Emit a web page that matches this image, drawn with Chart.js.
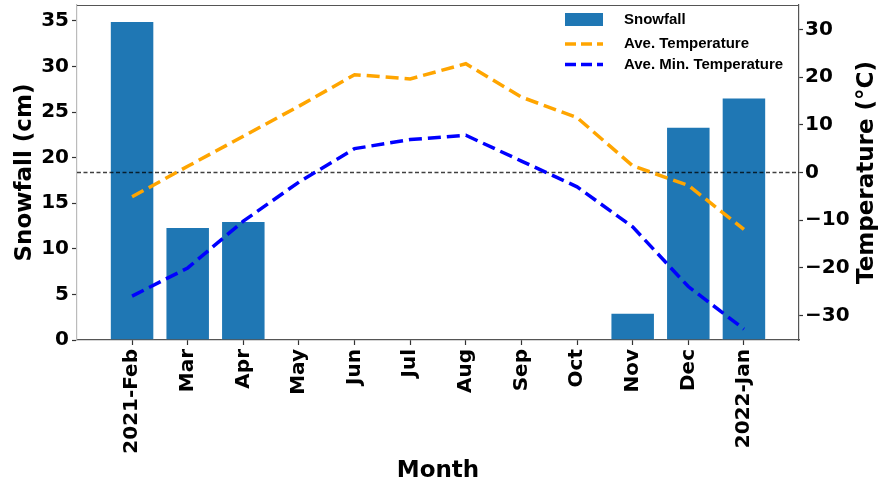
<!DOCTYPE html>
<html><head><meta charset="utf-8">
<script src="https://cdn.jsdelivr.net/npm/chart.js@4/dist/chart.umd.min.js"></script>
<style>html,body{margin:0;padding:0;background:#fff}#wrap{width:879px;height:486px}</style>
</head><body><div id="wrap"><canvas id="c" width="879" height="486"></canvas></div>
<script>
const months = ['2021-Feb','Mar','Apr','May','Jun','Jul','Aug','Sep','Oct','Nov','Dec','2022-Jan'];
const snowfall = [35, 12.4, 13.05, 0, 0, 0, 0, 0, 0, 3.0, 23.4, 26.6];
const aveTemp = [-5.1, 1.3, 7.6, 13.9, 20.5, 19.6, 22.8, 15.8, 11.5, 1.4, -2.7, -11.9];
const aveMinTemp = [-25.9, -20.0, -10.2, -2.0, 5.0, 6.9, 7.8, 2.4, -3.0, -11.4, -23.9, -32.8];
const snowTicks = [0, 5, 10, 15, 20, 25, 30, 35];
const tempTicks = [-30, -20, -10, 0, 10, 20, 30];
const zeroLine = [0, 0];
const xRange = [-0.99, 11.99];

const TICK_FONT = {family: 'DejaVu Sans', weight: 'bold', size: 20};
const TITLE_FONT = {family: 'DejaVu Sans', weight: 'bold', size: 23};

const pts = arr => arr.map((v, i) => ({x: i, y: v}));

const decor = {
  id: 'decor',
  afterDraw(chart) {
    const {ctx, chartArea: a} = chart;
    ctx.save();
    ctx.strokeStyle = '#555';
    ctx.lineWidth = 1.2;
    ctx.beginPath();
    ctx.moveTo(a.left, a.top + 0.5);
    ctx.lineTo(a.right, a.top + 0.5);
    ctx.stroke();
    ctx.translate(867, (a.top + a.bottom) / 2);
    ctx.rotate(-Math.PI / 2);
    ctx.fillStyle = '#000';
    ctx.font = 'bold 23px "DejaVu Sans"';
    ctx.textAlign = 'center';
    ctx.textBaseline = 'middle';
    ctx.fillText('Temperature (°C)', 0, 0);
    ctx.restore();

    ctx.save();
    const ds = chart.data.datasets;
    const x0 = 565, w = 38, tx = 624;
    const rows = [19.5, 44, 64.5];
    ctx.font = 'bold 15px "Liberation Sans"';
    ctx.textBaseline = 'middle';
    for (let i = 0; i < 3; i++) {
      const d = ds[i];
      const y = rows[i];
      if (d.type === 'bar') {
        ctx.fillStyle = d.backgroundColor;
        ctx.fillRect(x0, y - 6.5, w, 13);
      } else {
        ctx.strokeStyle = d.borderColor;
        ctx.lineWidth = d.borderWidth;
        ctx.setLineDash([11, 5]);
        ctx.beginPath();
        ctx.moveTo(x0, y);
        ctx.lineTo(x0 + w, y);
        ctx.stroke();
        ctx.setLineDash([]);
      }
      ctx.fillStyle = '#000';
      ctx.fillText(d.label, tx, y);
    }
    ctx.restore();
  }
};

new Chart(document.getElementById('c'), {
  type: 'bar',
  data: {
    datasets: [
      {type: 'bar', label: 'Snowfall', data: pts(snowfall), backgroundColor: '#1f77b4',
       borderColor: 'rgba(255,255,255,0.35)', borderWidth: 1, barPercentage: 0.8, categoryPercentage: 1,
       yAxisID: 'y', order: 3},
      {type: 'line', label: 'Ave. Temperature', data: pts(aveTemp), borderColor: 'orange', borderWidth: 3.5,
       borderDash: [13, 6], pointRadius: 0, tension: 0, yAxisID: 'y2', order: 1, fill: false},
      {type: 'line', label: 'Ave. Min. Temperature', data: pts(aveMinTemp), borderColor: 'blue', borderWidth: 3.5,
       borderDash: [13, 6], pointRadius: 0, tension: 0, yAxisID: 'y2', order: 1, fill: false},
      {type: 'line', label: 'zero', data: zeroLine.map((v, i) => ({x: xRange[i], y: v})), borderColor: 'rgba(0,0,0,0.75)',
       borderWidth: 1.3, borderDash: [4, 2.5], pointRadius: 0, yAxisID: 'y2', order: 2, fill: false}
    ]
  },
  options: {
    responsive: false,
    animation: false,
    layout: {padding: {top: 5, left: 0, right: 0, bottom: 0}},
    plugins: {legend: {display: false}, tooltip: {enabled: false}},
    scales: {
      x: {
        type: 'linear', min: xRange[0], max: xRange[1], offset: false,
        afterFit(s) { s.height = 146; s.paddingLeft = 0; s.paddingRight = 0; },
        afterBuildTicks(s) { s.ticks = months.map((_, i) => ({value: i})); },
        ticks: {autoSkip: false, maxRotation: 90, minRotation: 90, includeBounds: false,
                callback: v => months[v], font: TICK_FONT, color: '#000', padding: 4},
        grid: {display: true, drawOnChartArea: false, offset: false, tickLength: 5, color: '#333', tickWidth: 1.2},
        border: {display: true, color: '#555', width: 1.2},
        title: {display: true, text: 'Month', font: TITLE_FONT, color: '#000', padding: {top: 0, bottom: 1}}
      },
      y: {
        position: 'left', min: 0, max: 36.75,
        afterFit(s) { s.width = 77; s.paddingTop = 0; s.paddingBottom = 0; },
        afterBuildTicks(s) { s.ticks = snowTicks.map(v => ({value: v})); },
        ticks: {font: TICK_FONT, color: '#000', padding: 3},
        grid: {display: true, drawOnChartArea: false, tickLength: 5, color: '#333', tickWidth: 1.2},
        border: {display: true, color: '#bbb', width: 1.2},
        title: {display: true, text: 'Snowfall (cm)', font: TITLE_FONT, color: '#000', padding: {top: 11, bottom: 0}}
      },
      y2: {
        position: 'right', min: -35.1, max: 35.1,
        afterFit(s) { s.width = 80; s.paddingTop = 0; s.paddingBottom = 0; },
        afterBuildTicks(s) { s.ticks = tempTicks.map(v => ({value: v})); },
        ticks: {font: TICK_FONT, color: '#000', padding: 2, callback: v => String(v).replace('-', '\u2212')},
        grid: {display: true, drawOnChartArea: false, tickLength: 4, color: '#333', tickWidth: 1.2},
        border: {display: true, color: '#555', width: 1.2},
        title: {display: false}
      }
    }
  },
  plugins: [decor]
});
</script>
</body></html>
